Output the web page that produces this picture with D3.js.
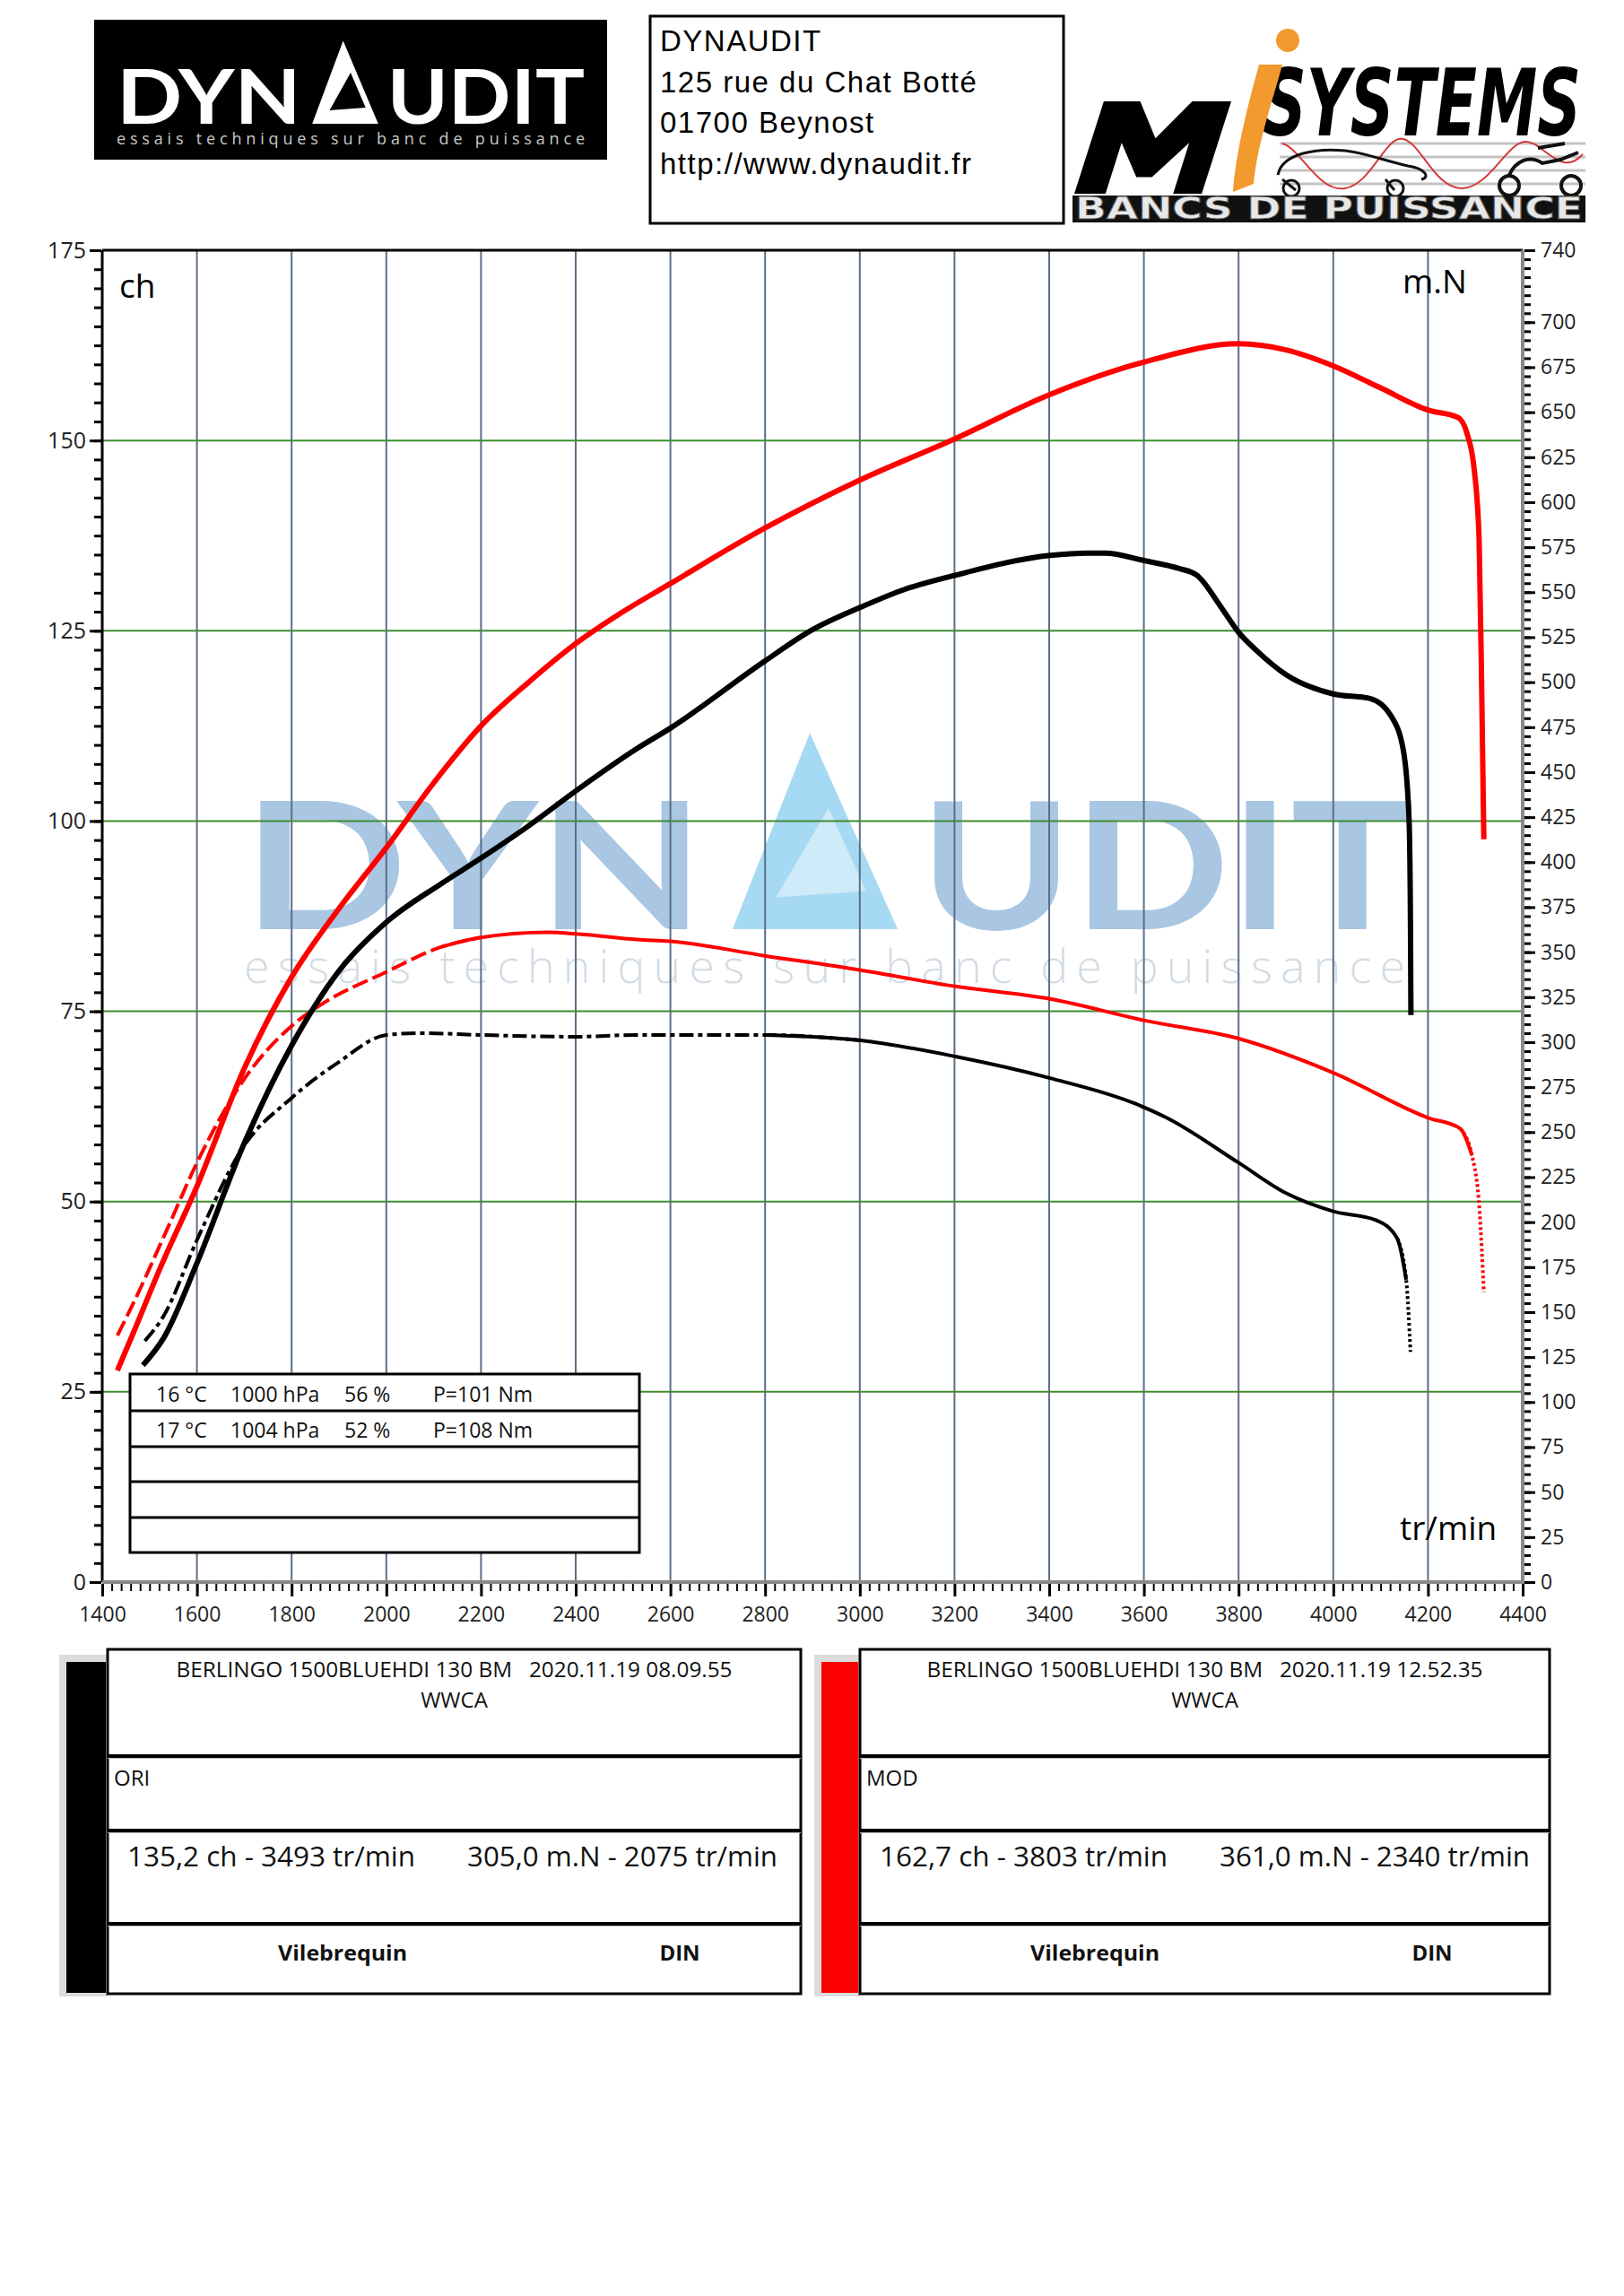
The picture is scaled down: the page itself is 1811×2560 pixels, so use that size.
<!DOCTYPE html>
<html lang="fr">
<head>
<meta charset="UTF-8">
<title>Dynaudit - Berlingo 1500 BlueHDi 130</title>
<style>
  body { margin: 0; padding: 0; background: #ffffff; }
  svg { display: block; }
  .pre { white-space: pre; }
</style>
</head>
<body>
<div id="chart"></div>
<script src="https://d3js.org/d3.v7.min.js"></script>
<script>
// ---- data read from the dyno sheet ----
const rpmTicks = d3.range(1400, 4401, 200);
const chTicks = d3.range(0, 176, 25);
const nmTicks = d3.range(0, 701, 25).concat([740]);

// ORI run (black)
const oriPowerRpm = [1486, 1530, 1600, 1696, 1800, 1900, 2000, 2117, 2197, 2299, 2399, 2529, 2600, 2799, 2899, 3002, 3093, 3202, 3402, 3480, 3518, 3602, 3673, 3712, 3762, 3800, 3838, 3901, 4000, 4078, 4122, 4148, 4160, 4163, 4164];
const oriPowerCh = [28.5, 32.1, 41.9, 57.1, 70.5, 80.3, 86.7, 91.8, 95.0, 99.3, 103.9, 109.5, 112.2, 121.0, 125.1, 128.1, 130.4, 132.3, 134.9, 135.2, 135.2, 134.2, 133.2, 132.3, 128.2, 124.8, 122.4, 119.2, 116.7, 116.1, 113.8, 109.3, 100.3, 86.7, 74.5];
const oriTorqueRpm = [1490, 1530, 1600, 1696, 1800, 1900, 2000, 2075, 2197, 2399, 2529, 2799, 3002, 3202, 3402, 3580, 3648, 3800, 3901, 4000, 4091, 4135, 4154, 4163];
const oriTorqueNm = [134, 148, 190, 241, 269, 289, 304, 305, 304, 303, 304, 304, 301, 292, 280, 266, 258, 233, 216, 206, 201, 191, 168, 128];

// MOD run (red)
const modPowerRpm = [1432, 1464, 1522, 1600, 1700, 1800, 1900, 2000, 2100, 2200, 2300, 2400, 2500, 2600, 2800, 3000, 3200, 3400, 3600, 3800, 3900, 4000, 4100, 4200, 4264, 4282, 4298, 4308, 4314, 4318];
const modPowerCh = [27.8, 32.5, 41.2, 52.0, 67.5, 79.5, 88.5, 96.5, 105.0, 112.5, 118.2, 123.3, 127.5, 131.2, 138.5, 144.8, 150.2, 156.0, 160.3, 162.7, 161.9, 159.8, 156.9, 154.0, 153.0, 151.0, 146.0, 137.0, 115.0, 97.6];
const modTorqueRpm = [1432, 1464, 1537, 1600, 1696, 1800, 1863, 2000, 2117, 2197, 2340, 2407, 2529, 2600, 2799, 3002, 3202, 3402, 3602, 3800, 4000, 4200, 4268, 4293, 4309, 4318];
const modTorqueNm = [137, 154, 196, 233, 278, 309, 321, 339, 353, 358, 361, 360, 357, 356, 348, 340, 331, 324, 312, 302, 283, 258, 252, 237, 206, 161];

// test conditions box
const condTemp = ["16 °C", "17 °C"];
const condPress = ["1000 hPa", "1004 hPa"];
const condHum = ["56 %", "52 %"];
const condLoss = ["P=101 Nm", "P=108 Nm"];

// result blocks
const runTitles = ["BERLINGO 1500BLUEHDI 130 BM   2020.11.19 08.09.55", "BERLINGO 1500BLUEHDI 130 BM   2020.11.19 12.52.35"];
const runNames = ["ORI", "MOD"];
const runPeakPower = ["135,2 ch - 3493 tr/min", "162,7 ch - 3803 tr/min"];
const runPeakTorque = ["305,0 m.N - 2075 tr/min", "361,0 m.N - 2340 tr/min"];

// ---- layout ----
const W = 1811, H = 2560;
const pL = 114, pR = 1698, pT = 279, pB = 1764;
const font = "'Open Sans', 'Noto Sans', sans-serif";

const svg = d3.select('#chart').append('svg')
    .attr('width', W).attr('height', H)
    .style('font-family', font);

const x = d3.scaleLinear().domain([1400, 4400]).range([pL, pR]);
const yCh = d3.scaleLinear().domain([0, 175]).range([pB, pT]);
const yNm = d3.scaleLinear().domain([0, 740]).range([pB, pT]);

// stylised DYNAUDIT word, the A drawn as a triangle
function logoWord(g, x0, x1, capTop, capH, fill, aFill, aInner) {
    const L = x1 - x0, base = capTop + capH, fs = capH / 0.72;
    const parts = [['DYN', 0, 0.394], ['UDIT', 0.578, 0.422]];
    parts.forEach(([t, off, len]) => {
        g.append('text').attr('x', x0 + L * off).attr('y', base)
            .attr('textLength', L * len).attr('lengthAdjust', 'spacingAndGlyphs')
            .style('font-family', "Lato, 'DejaVu Sans', sans-serif").style('font-weight', 700)
            .style('font-size', fs + 'px').attr('fill', fill).text(t);
    });
    const px = x0 + L * 0.484, py = capTop - capH * 0.54;
    g.append('path')
        .attr('d', `M${px},${py}L${x0 + L * 0.418},${base}L${x0 + L * 0.559},${base}Z`)
        .attr('fill', aFill);
    g.append('path')
        .attr('d', `M${px + L * 0.016},${capTop + capH * 0.05}L${x0 + L * 0.455},${base - capH * 0.25}L${x0 + L * 0.532},${base - capH * 0.3}Z`)
        .attr('fill', aInner);
}

// ---- header ----
const head = svg.append('g');
head.append('rect').attr('x', 105).attr('y', 22).attr('width', 572).attr('height', 156).attr('fill', '#000');
logoWord(head, 130, 652, 78, 60, '#ffffff', '#ffffff', '#000000');
head.append('text').attr('x', 130).attr('y', 161)
    .attr('textLength', 522).attr('lengthAdjust', 'spacing')
    .style('font-size', '18px').attr('fill', '#c8c8c8')
    .text('essais techniques sur banc de puissance');

head.append('rect').attr('x', 725).attr('y', 18).attr('width', 461).attr('height', 231)
    .attr('fill', 'none').attr('stroke', '#000').attr('stroke-width', 3);
const addr = ["DYNAUDIT", "125 rue du Chat Botté", "01700 Beynost", "http://www.dynaudit.fr"];
head.selectAll('.addr').data(addr).enter().append('text')
    .attr('x', 736).attr('y', (d, i) => 57 + i * 45.5)
    .style('font-family', "'Liberation Sans', Arial, sans-serif")
    .style('font-size', '33px').style('letter-spacing', '1.5px')
    .attr('fill', '#000').text(d => d);

// MI Systems logo
const mi = svg.append('g');
[160, 175, 190, 205].forEach(yy => {
    mi.append('line').attr('x1', 1427).attr('x2', 1768).attr('y1', yy).attr('y2', yy)
        .attr('stroke', '#c4c4c4').attr('stroke-width', 3);
});
mi.append('path')
    .attr('d', 'M1430,160 C1450,165 1470,215 1500,210 S1545,150 1565,155 S1600,210 1630,210 S1680,160 1700,158 S1740,200 1765,172')
    .attr('fill', 'none').attr('stroke', '#d23a3a').attr('stroke-width', 2);
mi.append('path')
    .attr('d', 'M1425,195 C1430,170 1470,165 1500,168 C1520,170 1540,178 1570,185 C1590,188 1595,198 1585,200 M1430,200 L1445,212 M1545,200 L1555,212')
    .attr('fill', 'none').attr('stroke', '#111').attr('stroke-width', 3);
mi.append('circle').attr('cx', 1440).attr('cy', 210).attr('r', 9).attr('fill', 'none').attr('stroke', '#111').attr('stroke-width', 3);
mi.append('circle').attr('cx', 1556).attr('cy', 210).attr('r', 9).attr('fill', 'none').attr('stroke', '#111').attr('stroke-width', 3);
mi.append('circle').attr('cx', 1683).attr('cy', 207).attr('r', 11).attr('fill', 'none').attr('stroke', '#111').attr('stroke-width', 4);
mi.append('circle').attr('cx', 1752).attr('cy', 207).attr('r', 11).attr('fill', 'none').attr('stroke', '#111').attr('stroke-width', 4);
mi.append('path')
    .attr('d', 'M1683,195 C1690,180 1705,172 1720,182 L1740,178 L1760,170 M1715,165 L1745,160')
    .attr('fill', 'none').attr('stroke', '#111').attr('stroke-width', 4);
// italic block "M" drawn as a shape
const mShape = [[0, 1], [0.02, 0], [0.3, 0], [0.5, 0.4], [0.7, 0], [1, 0], [0.98, 1], [0.76, 1], [0.77, 0.45], [0.56, 0.82], [0.44, 0.82], [0.25, 0.45], [0.24, 1]];
const mPath = d3.line()(mShape.map(([u, v]) => [1198 + u * 145 + (1 - v) * 30, 113 + v * 103])) + 'Z';
mi.append('path').attr('d', mPath).attr('fill', '#000');
mi.append('text').attr('x', 1408).attr('y', 151)
    .attr('textLength', 355).attr('lengthAdjust', 'spacingAndGlyphs')
    .style('font-family', "'DejaVu Sans', sans-serif").style('font-weight', 'bold').style('font-style', 'oblique')
    .style('font-size', '104px').attr('fill', '#000').text('SYSTEMS');
mi.append('path')
    .attr('d', 'M1404,72 L1430,72 C1420,110 1402,160 1398,205 L1375,214 C1378,170 1392,115 1404,72 Z')
    .attr('fill', '#f29a2e');
mi.append('ellipse').attr('cx', 1436).attr('cy', 45).attr('rx', 13).attr('ry', 13)
    .attr('transform', 'rotate(20,1436,45)').attr('fill', '#f29a2e');
mi.append('rect').attr('x', 1196).attr('y', 218).attr('width', 572).attr('height', 30).attr('fill', '#111');
mi.append('text').attr('x', 1199).attr('y', 244)
    .attr('textLength', 566).attr('lengthAdjust', 'spacingAndGlyphs')
    .style('font-family', "'DejaVu Sans', sans-serif").style('font-weight', 'bold')
    .style('font-size', '33px').attr('fill', '#e8e8e8').attr('stroke', '#555').attr('stroke-width', 0.8)
    .text('BANCS DE PUISSANCE');

// ---- watermark ----
const wm = svg.append('g');
logoWord(wm, 271, 1577, 894, 142, '#a9c6e2', '#a6d9f3', '#cfeaf8');
wm.append('text').attr('x', 272).attr('y', 1096)
    .attr('textLength', 1295).attr('lengthAdjust', 'spacing')
    .style('font-size', '52px').style('font-weight', 300).attr('fill', '#d3dce5')
    .text('essais techniques sur banc de puissance');

// ---- grid ----
const grid = svg.append('g');
grid.selectAll('.vg').data(rpmTicks.filter(d => d > 1400 && d < 4400)).enter().append('line')
    .attr('x1', d => x(d)).attr('x2', d => x(d)).attr('y1', pT).attr('y2', pB)
    .attr('stroke', '#5b6f86').attr('stroke-width', 2);
grid.selectAll('.hg').data(chTicks.filter(d => d > 0 && d < 175)).enter().append('line')
    .attr('x1', pL).attr('x2', pR).attr('y1', d => yCh(d)).attr('y2', d => yCh(d))
    .attr('stroke', '#3f8c30').attr('stroke-width', 2);

// ---- curves ----
const line = d3.line().curve(d3.curveMonotoneX);
function pts(rpm, vals, scale) {
    return rpm.map((r, i) => [x(r), scale(vals[i])]);
}
// split a series at given rpm limits so each part can get its own dash style
function drawSplit(rpm, vals, scale, color, width, parts) {
    const p = pts(rpm, vals, scale);
    parts.forEach(part => {
        const idx = rpm.map((r, i) => i).filter(i => rpm[i] >= part.from && rpm[i] <= part.to);
        if (idx.length < 1) return;
        const a = Math.max(0, idx[0] - 1), b = Math.min(rpm.length - 1, idx[idx.length - 1] + 1);
        const sub = p.slice(part.from === -Infinity ? 0 : a, b + 1);
        svg.append('path').attr('d', line(sub)).attr('fill', 'none')
            .attr('stroke', color).attr('stroke-width', width)
            .attr('stroke-linejoin', 'round')
            .attr('stroke-dasharray', part.dash || null);
    });
}

drawSplit(oriTorqueRpm, oriTorqueNm, yNm, '#000', 4, [
    { from: -Infinity, to: 2799, dash: '16,5,5,5' },
    { from: 2800, to: 4150 },
    { from: 4151, to: Infinity, dash: '3,3' }
]);
drawSplit(modTorqueRpm, modTorqueNm, yNm, '#ff0000', 4, [
    { from: -Infinity, to: 2117, dash: '18,6' },
    { from: 2118, to: 4290 },
    { from: 4291, to: Infinity, dash: '3,3' }
]);
svg.append('path').attr('d', line(pts(oriPowerRpm, oriPowerCh, yCh)))
    .attr('fill', 'none').attr('stroke', '#000').attr('stroke-width', 6).attr('stroke-linejoin', 'round');
svg.append('path').attr('d', line(pts(modPowerRpm, modPowerCh, yCh)))
    .attr('fill', 'none').attr('stroke', '#ff0000').attr('stroke-width', 6).attr('stroke-linejoin', 'round');

// ---- frame ----
svg.append('line').attr('x1', pL).attr('x2', pR).attr('y1', pT).attr('y2', pT).attr('stroke', '#000').attr('stroke-width', 3);
svg.append('line').attr('x1', pL).attr('x2', pL).attr('y1', pT).attr('y2', pB).attr('stroke', '#000').attr('stroke-width', 3);
svg.append('line').attr('x1', pR).attr('x2', pR).attr('y1', pT).attr('y2', pB + 2).attr('stroke', '#8a8a8a').attr('stroke-width', 4);
svg.append('line').attr('x1', pL).attr('x2', pR).attr('y1', pB).attr('y2', pB).attr('stroke', '#8a8a8a').attr('stroke-width', 4);

// ---- axes ----
function styleAxis(g, w) {
    g.select('.domain').remove();
    g.selectAll('.tick line').attr('stroke', '#000').attr('stroke-width', w);
    g.selectAll('.tick text').attr('fill', '#222').style('font-family', font);
}
const axL = svg.append('g').attr('transform', `translate(${pL - 1},0)`);
axL.append('g').call(d3.axisLeft(yCh).tickValues(d3.range(0, 175.1, 2.5)).tickSize(8).tickFormat('')).call(g => styleAxis(g, 3));
axL.append('g').call(d3.axisLeft(yCh).tickValues(chTicks).tickSize(13).tickPadding(4)).call(g => styleAxis(g, 3))
    .selectAll('text').style('font-size', '25px');

const axB = svg.append('g').attr('transform', `translate(0,${pB + 2})`);
axB.append('g').call(d3.axisBottom(x).tickValues(d3.range(1400, 4401, 20)).tickSize(8).tickFormat('')).call(g => styleAxis(g, 2));
axB.append('g').call(d3.axisBottom(x).tickValues(rpmTicks).tickSize(14).tickPadding(12).tickFormat(d3.format('d'))).call(g => styleAxis(g, 3))
    .selectAll('text').style('font-size', '23px');

const axR = svg.append('g').attr('transform', `translate(${pR + 2},0)`);
axR.append('g').call(d3.axisRight(yNm).tickValues(d3.range(0, 741, 5)).tickSize(7).tickFormat('')).call(g => styleAxis(g, 3));
axR.append('g').call(d3.axisRight(yNm).tickValues(nmTicks).tickSize(12).tickPadding(6)).call(g => styleAxis(g, 3))
    .selectAll('text').style('font-size', '23px');

// unit labels
svg.append('text').attr('x', 133).attr('y', 332).style('font-size', '37px').attr('fill', '#000').text('ch');
svg.append('text').attr('x', 1564).attr('y', 327).style('font-size', '37px').attr('fill', '#000').text('m.N');
svg.append('text').attr('x', 1561).attr('y', 1717).style('font-size', '37px').attr('fill', '#000').text('tr/min');

// ---- conditions box ----
const cond = svg.append('g');
const condRows = [1532, 1573, 1613, 1652, 1692, 1731];
cond.append('rect').attr('x', 145).attr('y', 1532).attr('width', 568).attr('height', 199)
    .attr('fill', '#fff').attr('stroke', '#000').attr('stroke-width', 3);
cond.selectAll('.rl').data(condRows.slice(1, -1)).enter().append('line')
    .attr('x1', 145).attr('x2', 713).attr('y1', d => d).attr('y2', d => d)
    .attr('stroke', '#000').attr('stroke-width', 3);
const condCols = [[condTemp, 174], [condPress, 257], [condHum, 384], [condLoss, 483]];
condCols.forEach(([vals, cx]) => {
    cond.selectAll(null).data(vals).enter().append('text')
        .attr('x', cx).attr('y', (d, i) => 1563 + i * 40)
        .style('font-size', '23px').attr('fill', '#111').text(d => d);
});

// ---- result blocks ----
const blocks = [
    { bar: '#000000', bx: 74, x0: 120, x1: 893 },
    { bar: '#ff0000', bx: 916, x0: 959, x1: 1728 }
];
blocks.forEach((b, i) => {
    const g = svg.append('g');
    const cx = (b.x0 + b.x1) / 2, w = b.x1 - b.x0;
    g.append('rect').attr('x', b.bx - 8).attr('y', 1845).attr('width', b.x0 - b.bx + 8).attr('height', 381).attr('fill', '#dcdcdc');
    g.append('rect').attr('x', b.bx).attr('y', 1853).attr('width', b.x0 - b.bx - 2).attr('height', 369).attr('fill', b.bar);
    g.append('rect').attr('x', b.x0).attr('y', 1839).attr('width', w).attr('height', 384)
        .attr('fill', '#fff').attr('stroke', '#000').attr('stroke-width', 3);
    [1958, 2041, 2145].forEach(yy => {
        g.append('line').attr('x1', b.x0).attr('x2', b.x1).attr('y1', yy + 2).attr('y2', yy + 2).attr('stroke', '#bbb').attr('stroke-width', 2);
        g.append('line').attr('x1', b.x0).attr('x2', b.x1).attr('y1', yy).attr('y2', yy).attr('stroke', '#000').attr('stroke-width', 4);
    });
    g.append('text').attr('class', 'pre').attr('x', cx).attr('y', 1870).attr('text-anchor', 'middle')
        .attr('textLength', 620).attr('lengthAdjust', 'spacingAndGlyphs')
        .style('font-size', '24px').attr('fill', '#111').text(runTitles[i]);
    g.append('text').attr('x', cx).attr('y', 1904).attr('text-anchor', 'middle')
        .style('font-size', '24px').attr('fill', '#111').text('WWCA');
    g.append('text').attr('x', b.x0 + 7).attr('y', 1991)
        .style('font-size', '24px').attr('fill', '#111').text(runNames[i]);
    g.append('text').attr('x', b.x0 + 22).attr('y', 2081)
        .attr('textLength', 321).attr('lengthAdjust', 'spacingAndGlyphs')
        .style('font-size', '31px').attr('fill', '#111').text(runPeakPower[i]);
    g.append('text').attr('x', b.x0 + 401).attr('y', 2081)
        .attr('textLength', 346).attr('lengthAdjust', 'spacingAndGlyphs')
        .style('font-size', '31px').attr('fill', '#111').text(runPeakTorque[i]);
    g.append('text').attr('x', b.x0 + 262).attr('y', 2186).attr('text-anchor', 'middle')
        .attr('textLength', 144).attr('lengthAdjust', 'spacingAndGlyphs')
        .style('font-size', '24px').style('font-weight', 'bold').attr('fill', '#111').text('Vilebrequin');
    g.append('text').attr('x', b.x0 + 638).attr('y', 2186).attr('text-anchor', 'middle')
        .style('font-size', '24px').style('font-weight', 'bold').attr('fill', '#111').text('DIN');
});
</script>
</body>
</html>
